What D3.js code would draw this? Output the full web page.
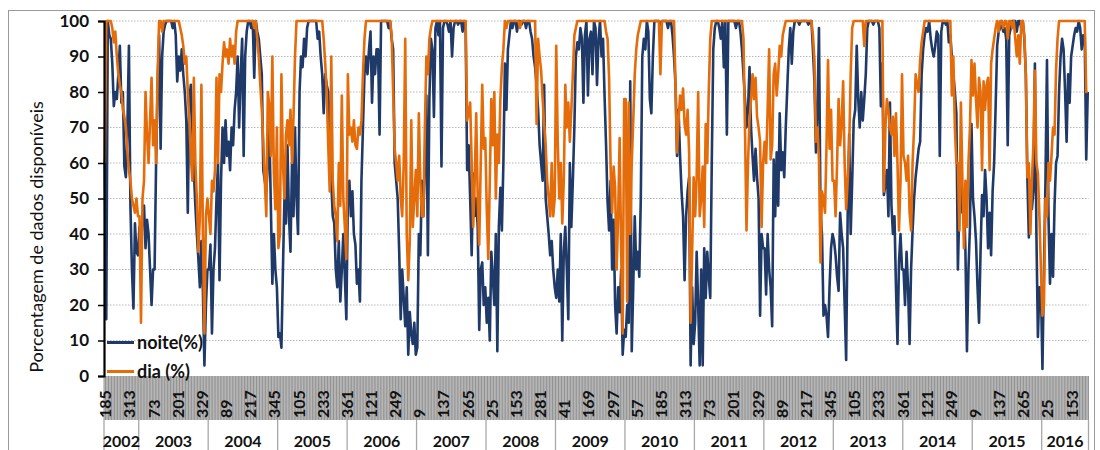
<!DOCTYPE html>
<html><head><meta charset="utf-8">
<script src="https://cdn.jsdelivr.net/npm/d3@7"></script>
<style>body{margin:0;background:#fff}svg{display:block}</style>
</head><body>
<svg id="c" width="1100" height="450"></svg>
<script>
// ---- data (8-day composites, 2002 day 185 -> 2016 day 241) ----
const years = [2002,2003,2004,2005,2006,2007,2008,2009,2010,2011,2012,2013,2014,2015,2016];
const firstDay = 185;
const dayStep = 8;
const yTicks = [0,10,20,30,40,50,60,70,80,90,100];
const seriesNames = ["noite(%)", "dia (%)"];

const noite = [
// 2002
61,16,100,96,95,88,76,80,78,85,93,77,80,59,56,70,93,48,30,19,43,35,34,
// 2003
42,36,45,48,36,44,40,30,20,30,30,60,82,96,64,90,97,99,100,100,100,100,98,100,96,83,90,86,92,85,80,72,46,78,82,70,58,48,40,33,25,38,24,3,20,30,
// 2004
30,37,12,30,36,50,60,27,55,70,60,72,62,66,58,70,65,75,80,90,70,85,95,62,90,97,100,100,98,100,84,100,97,95,90,85,58,55,52,60,70,48,26,40,30,25,
// 2005
11,12,8,30,50,43,65,45,35,60,45,70,50,40,80,90,87,95,90,98,100,100,100,100,100,100,95,97,90,85,74,85,82,80,70,55,45,43,30,25,38,21,30,40,28,16,
// 2006
50,55,45,52,40,37,26,30,21,55,70,85,90,85,92,97,77,90,85,92,92,68,100,100,100,100,100,98,100,95,92,60,55,50,35,16,30,22,14,25,6,18,12,9,15,6,
// 2007
8,40,34,55,45,60,79,34,78,95,92,73,98,100,96,100,59,98,100,100,99,97,100,90,98,100,100,99,100,100,97,100,98,58,65,50,34,57,45,50,42,13,30,32,20,25,
// 2008
15,22,10,35,28,20,40,7,42,53,41,60,88,75,92,96,100,98,100,100,97,100,100,99,100,100,98,100,100,97,95,90,87,82,75,65,60,55,82,50,45,40,34,38,30,25,
// 2009
22,30,21,40,10,35,42,30,16,60,42,55,70,90,94,92,98,95,77,96,100,79,95,97,85,100,98,82,95,100,90,95,79,65,49,41,55,30,44,20,12,25,18,30,6,13,
// 2010
11,20,15,83,7,25,45,30,35,28,50,90,95,92,100,97,78,74,90,100,100,100,100,99,100,100,100,100,98,100,100,96,90,82,62,75,62,52,45,27,45,52,56,3,25,9,
// 2011
15,35,20,3,30,3,36,22,35,28,22,60,92,98,100,100,98,95,100,87,100,68,100,100,100,100,100,98,100,100,97,92,85,78,70,75,87,70,62,55,64,56,50,17,40,36,
// 2012
36,23,40,30,25,14,61,45,63,48,74,58,63,56,70,81,92,98,88,97,100,100,100,99,100,100,100,100,100,99,100,100,92,83,63,75,98,46,40,17,20,17,11,25,36,40,
// 2013
38,34,28,24,46,40,36,20,4.5,45,68,40,55,72,75,93,78,70,80,72,78,85,98,100,100,100,99,100,100,100,98,76,88,51,54,58,45,77,48,40,45,25,9,32,40,30,
// 2014
30,20,35,25,9,30,41,50,56,60,64,66,85,92,96,98,97,100,95,92,90,93,97,96,62,97,100,100,99,100,94,96,90,85,80,74,30,48,60,46,50,35,7,30,42,71,
// 2015
50,45,38,25,15,35,51,45,58,50,36,46,34,52,60,76,93,97,98,100,97,98,95,65,96,98,100,100,100,97,100,100,98,100,95,85,56,39,55,47,52,88,40,11,25,25,
// 2016
2,30,55,89,45,26,40,28,48,60,62,80,90,95,92,80,66,85,77,90,93,96,98,97,100,98,92,96,96,61,80
];

const dia = [
// 2002
60,100,100,100,100,98,94,97,90,85,82,80,75,73,70,63,58,55,50,48,46,50,45,
// 2003
45,15,50,55,80,68,60,72,84,65,72,60,85,100,100,97,100,100,100,100,100,100,100,100,100,100,100,98,96,93,88,90,80,72,62,55,84,60,50,35,45,82,40,12,45,50,
// 2004
45,40,55,52,58,84,60,85,80,88,94,90,92,88,95,90,93,88,97,100,100,100,100,100,100,100,100,100,100,100,98,100,95,90,82,75,66,55,45,80,76,62,90,57,47,70,
// 2005
36,40,85,60,50,68,72,65,75,60,73,90,100,100,100,100,100,100,100,100,100,100,100,100,100,100,100,100,100,100,95,88,80,65,52,90,55,48,45,38,60,48,79,50,42,33,
// 2006
85,68,70,66,72,65,64,70,68,72,85,95,100,100,100,100,100,100,100,100,100,100,100,100,100,100,100,100,100,96,80,64,60,55,62,50,45,60,95,40,27,38,72,42,50,58,
// 2007
45,74,55,45,45,70,90,85,95,98,100,100,100,100,100,100,100,100,100,100,100,100,100,100,100,100,100,100,100,100,100,100,100,72,74,77,60,42,55,74,50,37,60,82,64,67,
// 2008
47,33,55,78,65,80,50,68,60,78,87,92,100,98,100,100,100,100,100,100,100,100,98,100,100,100,100,100,100,100,100,100,100,71,95,90,86,78,71,65,55,50,45,60,45,50,
// 2009
93,66,50,60,43,55,82,70,77,66,75,85,96,98,100,100,100,100,100,100,100,100,100,100,100,100,100,100,100,100,100,100,100,97,95,84,59,46,59,53,30,45,67,35,12,78,
// 2010
78,21,77,40,60,72,85,92,96,98,100,100,100,100,100,100,100,100,100,100,100,100,100,85,100,100,100,100,100,100,100,100,100,82,63,72,79,75,81,71,68,75,63,15,35,56,
// 2011
45,56,80,45,50,59,42,71,60,80,95,100,100,100,100,100,100,100,100,100,100,100,100,100,100,100,100,100,100,100,100,100,95,70,41,60,72,78,85,78,84,73,70,66,42,60,
// 2012
66,60,75,92,61,65,85,88,79,85,93,90,96,98,100,100,100,100,100,100,100,100,100,100,100,100,100,100,100,100,100,100,96,89,66,70,61,32,52,50,46,65,89,64,75,55,
// 2013
55,45,60,78,65,71,83,60,47,55,64,85,98,100,100,100,100,100,100,100,93,100,100,100,100,100,100,100,100,100,100,100,100,52,70,78,75,70,68,73,62,74,60,41,55,85,
// 2014
62,60,55,62,46,41,60,70,85,82,80,89,94,97,100,100,100,100,100,100,100,100,100,100,100,100,100,100,100,100,100,100,79,90,70,60,60,41,77,55,36,55,42,60,70,89,
// 2015
79,88,78,70,84,80,58,83,75,82,84,58,88,92,95,98,100,97,100,100,98,100,100,95,100,100,98,100,95,90,96,88,100,100,96,85,56,60,40,55,65,86,60,57,45,30,
// 2016
17,20,50,45,60,55,62,70,68,86,95,100,100,100,100,100,100,100,100,100,100,100,100,100,100,100,100,100,100,80,80
];

// ---- categories (year, day) ----
const cats = [];
{
  let yi = 0, d = firstDay;
  while (cats.length < noite.length) {
    cats.push({year: years[yi], day: d});
    d += dayStep;
    if (d > 365) { yi++; d = 1; }
  }
}

const L = 104, R = 1088.5, T = 21, B = 376;
const BAND_BOTTOM = 420, YEAR_BOTTOM = 451;
const BLUE = "#1f3a68", ORANGE = "#e46c0a";
const FONT = "Lato, 'Open Sans', sans-serif";

const svg = d3.select("#c");

const x = d3.scaleBand().domain(d3.range(cats.length)).range([L, R]).padding(0);
const bw = x.bandwidth();
const y = d3.scaleLinear().domain([0, 100]).range([B, T]);

// outer frame
svg.append("rect").attr("x", 8.5).attr("y", 10.5).attr("width", 1086).attr("height", 460)
  .attr("fill", "none").attr("stroke", "#9a9a9a").attr("stroke-width", 1);

// gridlines
svg.append("g").selectAll("line").data(yTicks.filter(v => v > 0)).join("line")
  .attr("x1", L).attr("x2", R).attr("y1", d => y(d)).attr("y2", d => y(d))
  .attr("stroke", "#b8b8b8").attr("stroke-width", 1).attr("stroke-dasharray", "1.5,1.5");

// category tick band
svg.append("rect").attr("x", L).attr("y", B).attr("width", R - L).attr("height", BAND_BOTTOM - B)
  .attr("fill", "#d4d4d4");
svg.append("g").selectAll("line").data(d3.range(cats.length + 1)).join("line")
  .attr("x1", i => L + i * bw).attr("x2", i => L + i * bw)
  .attr("y1", B).attr("y2", BAND_BOTTOM)
  .attr("stroke", "#8a8a8a").attr("stroke-width", 0.9);

// day tick labels (every 16th composite)
const tickIdx = d3.range(0, cats.length, 16);
svg.append("g").selectAll("text").data(tickIdx).join("text")
  .attr("transform", i => `translate(${x(i) + bw / 2},${BAND_BOTTOM - 2}) rotate(-90)`)
  .attr("text-anchor", "start").attr("dominant-baseline", "central")
  .attr("font-family", FONT).attr("font-weight", 700).attr("font-size", 16)
  .attr("fill", "#111").text(i => cats[i].day);

// year separators + labels
const yearStarts = years.map(yr => cats.findIndex(c => c.year === yr));
const bounds = yearStarts.concat([cats.length]);
svg.append("g").selectAll("line").data(bounds).join("line")
  .attr("x1", i => L + i * bw).attr("x2", i => L + i * bw)
  .attr("y1", BAND_BOTTOM).attr("y2", YEAR_BOTTOM)
  .attr("stroke", "#a8a8a8").attr("stroke-width", 1.3);
svg.append("g").selectAll("text").data(years).join("text")
  .attr("x", (yr, k) => L + (bounds[k] + bounds[k + 1]) / 2 * bw)
  .attr("y", 447)
  .attr("text-anchor", "middle")
  .attr("font-family", FONT).attr("font-weight", 700).attr("font-size", 16)
  .attr("fill", "#111").text(d => d);

// series lines
const line = d3.line().x((v, i) => x(i) + bw / 2).y(v => y(v));
svg.append("path").datum(noite).attr("d", line).attr("fill", "none")
  .attr("stroke", BLUE).attr("stroke-width", 2.6).attr("stroke-linejoin", "round");
svg.append("path").datum(dia).attr("d", line).attr("fill", "none")
  .attr("stroke", ORANGE).attr("stroke-width", 2.6).attr("stroke-linejoin", "round");

// y axis
const yAxis = d3.axisLeft(y).tickValues(yTicks).tickSize(6).tickPadding(9);
const ga = svg.append("g").attr("transform", `translate(${L},0)`).call(yAxis);
ga.select(".domain").attr("stroke", "#000").attr("stroke-width", 2.2);
ga.selectAll(".tick line").attr("stroke", "#000").attr("stroke-width", 1.5);
ga.selectAll(".tick text").attr("font-family", FONT).attr("font-weight", 700)
  .attr("font-size", 17).attr("fill", "#111");

// y title
svg.append("text").attr("transform", "translate(43,237) rotate(-90)")
  .attr("text-anchor", "middle").attr("font-family", FONT).attr("font-size", 18)
  .attr("fill", "#111").text("Porcentagem de dados disponíveis");

// legend
const leg = svg.append("g");
[[seriesNames[0], BLUE, 342.5], [seriesNames[1], ORANGE, 371.5]].forEach(([name, col, ly]) => {
  leg.append("line").attr("x1", 107).attr("x2", 134).attr("y1", ly).attr("y2", ly)
    .attr("stroke", col).attr("stroke-width", 3);
  leg.append("text").attr("x", 137).attr("y", ly + 6)
    .attr("font-family", FONT).attr("font-weight", 700).attr("font-size", 18)
    .attr("fill", "#111").text(name);
});
</script>
</body></html>
